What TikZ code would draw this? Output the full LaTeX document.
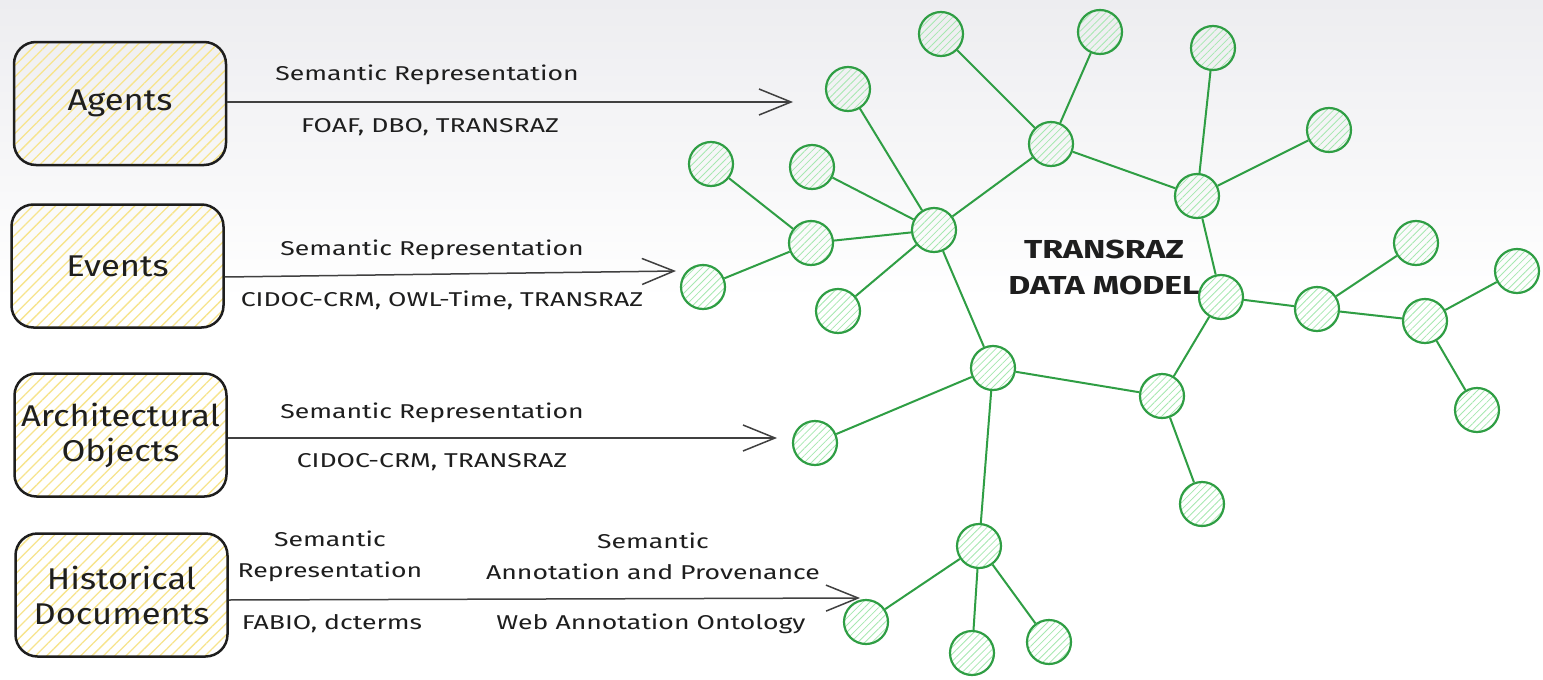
\documentclass[tikz,border=0pt]{standalone}
\usepackage{fontspec}
\setmainfont{Fira Sans}
\newfontfamily\lblfont{Fira Sans}[FakeStretch=1.33]
\newfontfamily\boxfont{Fira Sans}[FakeStretch=1.15]
\newfontfamily\titlefont{Fira Sans}[FakeStretch=1.3]
\usetikzlibrary{arrows.meta,patterns.meta}
\definecolor{exgreen}{HTML}{2F9E44}
\definecolor{exgreenfill}{HTML}{A6E8B0}
\definecolor{exyellow}{HTML}{F7E48C}
\definecolor{ink}{HTML}{1E1E1E}
\definecolor{bgtop}{HTML}{EDEDF0}
\begin{document}
\begin{tikzpicture}[x=1pt,y=-1pt,
  cnode/.style={circle, draw=exgreen, line width=2.2pt, minimum size=44pt, inner sep=0pt,
    pattern={Lines[angle=45,distance=5pt,line width=0.8pt]}, pattern color=exgreenfill},
  edge/.style={draw=exgreen, line width=2pt},
  box/.style={draw=ink, line width=2.5pt, rounded corners=22pt,
    pattern={Lines[angle=45,distance=8pt,line width=1.3pt]}, pattern color=exyellow,
    minimum width=212pt, minimum height=123pt, align=center,
    font=\boxfont\fontsize{30}{35}\selectfont, text=ink, inner sep=0pt},
  lbl/.style={font=\lblfont\fontsize{20}{31}\selectfont, text=ink, align=center, inner sep=0pt},
  arr/.style={draw=ink!85, line width=1.5pt, -{Straight Barb[length=32pt,width=26pt,line width=1.5pt]}},
  title/.style={font=\titlefont\bfseries\fontsize{26}{36}\selectfont, text=ink, align=center, inner sep=0pt}
]
\useasboundingbox (0,0) rectangle (1543,680);
\shade[top color=bgtop, bottom color=white] (0,0) rectangle (1543,300);
\fill[white] (0,300) rectangle (1543,680);

% boxes
\node[box] (agents) at (120,103.5) {Agents};
\node[box] (events) at (117.5,266) {Events};
\node[box] (arch) at (120.5,435) {Architectural\\Objects};
\node[box] (hist) at (121.5,595) {Historical\\Documents};

% circles
\node[cnode] (c1) at (848,89) {};
\node[cnode] (c2) at (941,34) {};
\node[cnode] (c3) at (1100,32) {};
\node[cnode] (c4) at (1213,48) {};
\node[cnode] (c5) at (1329,130) {};
\node[cnode] (c6) at (1051,144) {};
\node[cnode] (c7) at (1197,196) {};
\node[cnode] (c8) at (934,230) {};
\node[cnode] (c9) at (812,167) {};
\node[cnode] (c10) at (711,164) {};
\node[cnode] (c11) at (811,243) {};
\node[cnode] (c12) at (703,287) {};
\node[cnode] (c13) at (838,311) {};
\node[cnode] (c14) at (1221,297) {};
\node[cnode] (c15) at (1416,243) {};
\node[cnode] (c16) at (1317,309) {};
\node[cnode] (c17) at (1517,271) {};
\node[cnode] (c18) at (1425,321) {};
\node[cnode] (c19) at (1477,410) {};
\node[cnode] (c20) at (993,368) {};
\node[cnode] (c21) at (1162,396) {};
\node[cnode] (c22) at (815,443) {};
\node[cnode] (c23) at (1202,504) {};
\node[cnode] (c24) at (979,546) {};
\node[cnode] (c25) at (866,622) {};
\node[cnode] (c26) at (972,653) {};
\node[cnode] (c27) at (1049,642) {};

% edges
\draw[edge] (c1) -- (c8);
\draw[edge] (c2) -- (c6);
\draw[edge] (c3) -- (c6);
\draw[edge] (c6) -- (c8);
\draw[edge] (c6) -- (c7);
\draw[edge] (c4) -- (c7);
\draw[edge] (c5) -- (c7);
\draw[edge] (c7) -- (c14);
\draw[edge] (c9) -- (c8);
\draw[edge] (c10) -- (c11);
\draw[edge] (c11) -- (c8);
\draw[edge] (c12) -- (c11);
\draw[edge] (c13) -- (c8);
\draw[edge] (c8) -- (c20);
\draw[edge] (c14) -- (c16);
\draw[edge] (c16) -- (c15);
\draw[edge] (c16) -- (c18);
\draw[edge] (c18) -- (c17);
\draw[edge] (c18) -- (c19);
\draw[edge] (c14) -- (c21);
\draw[edge] (c20) -- (c21);
\draw[edge] (c20) -- (c22);
\draw[edge] (c20) -- (c24);
\draw[edge] (c21) -- (c23);
\draw[edge] (c24) -- (c25);
\draw[edge] (c24) -- (c26);
\draw[edge] (c24) -- (c27);

% title
\node[title] (tm) at (1104,267) {TRANSRAZ\\DATA MODEL};

% arrows
\coordinate (tA) at (793,102);
\coordinate (tE) at (676,271);
\coordinate (tO) at (777,438);
\coordinate (tH) at (860,598);
\draw[arr] ([yshift=1.5pt]agents.east) -- (tA);
\draw[arr] ([yshift=-11pt]events.east) -- (tE);
\draw[arr] ([yshift=-3pt]arch.east) -- (tO);
\draw[arr] ([yshift=-5pt]hist.east) -- (tH);

% labels
\node[lbl] (la1) at (427,75) {Semantic Representation};
\node[lbl] (la2) at (430,127) {FOAF, DBO, TRANSRAZ};
\node[lbl] (le1) at (432,250) {Semantic Representation};
\node[lbl] (le2) at (442,300) {CIDOC-CRM, OWL-Time, TRANSRAZ};
\node[lbl] (lo1) at (432,413) {Semantic Representation};
\node[lbl] (lo2) at (432,462) {CIDOC-CRM, TRANSRAZ};
\node[lbl] (lh1) at (330,556) {Semantic\\Representation};
\node[lbl] (lh2) at (332,624) {FABIO, dcterms};
\node[lbl] (lh3) at (653,556) {Semantic\\Annotation and Provenance};
\node[lbl] (lh4) at (651,624) {Web Annotation Ontology};
\end{tikzpicture}
\end{document}
